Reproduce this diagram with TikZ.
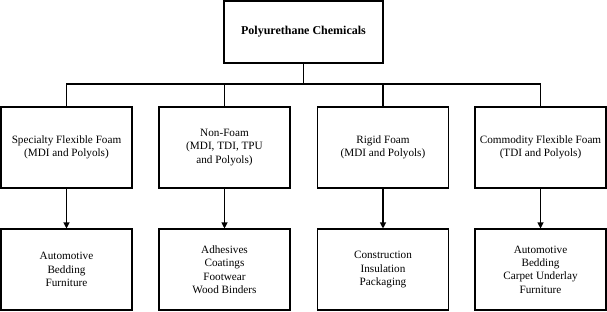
\documentclass[tikz,border=0pt]{standalone}
\usepackage{fontspec}
\setmainfont{Liberation Serif}
\usetikzlibrary{arrows.meta}
\begin{document}
\begin{tikzpicture}[x=1pt,y=-1pt,
  box/.style={draw,line width=1.1pt,minimum width=131pt,minimum height=81pt,align=center,inner sep=0pt,font=\fontsize{11.2}{13.4}\selectfont},
  topbox/.style={draw,line width=1.1pt,minimum width=159pt,minimum height=62pt,align=center,inner sep=0pt,font=\fontsize{12}{14}\selectfont\bfseries},
  conn/.style={line width=1.1pt},
  arr/.style={line width=1.1pt,-{Triangle[length=6pt,width=6pt]}}]
\useasboundingbox (0,0) rectangle (607,311);
\node[topbox] (top) at (303.5,32) {Polyurethane Chemicals};
\node[box] (a) at (66.5,147.5) {Specialty Flexible Foam\\(MDI and Polyols)};
\node[box] (b) at (224.5,147.5) {Non-Foam\\(MDI, TDI, TPU\\and Polyols)};
\node[box] (c) at (383,147.5) {Rigid Foam\\(MDI and Polyols)};
\node[box] (d) at (540.5,147.5) {Commodity Flexible Foam\\(TDI and Polyols)};
\node[box] (a2) at (66.5,269.5) {Automotive\\Bedding\\Furniture};
\node[box] (b2) at (224.5,269.5) {Adhesives\\Coatings\\Footwear\\Wood Binders};
\node[box] (c2) at (383,269.5) {Construction\\Insulation\\Packaging};
\node[box] (d2) at (540.5,269.5) {Automotive\\Bedding\\Carpet Underlay\\Furniture};
\coordinate (bar) at (303.5,84);
\draw[conn] (top.south) -- (bar);
\draw[conn] (a.north) -- (a.north |- bar) -- (d.north |- bar) -- (d.north);
\draw[conn] (b.north) -- (b.north |- bar);
\draw[conn] (c.north) -- (c.north |- bar);
\draw[arr] (a.south) -- (a2.north);
\draw[arr] (b.south) -- (b2.north);
\draw[arr] (c.south) -- (c2.north);
\draw[arr] (d.south) -- (d2.north);
\end{tikzpicture}
\end{document}
